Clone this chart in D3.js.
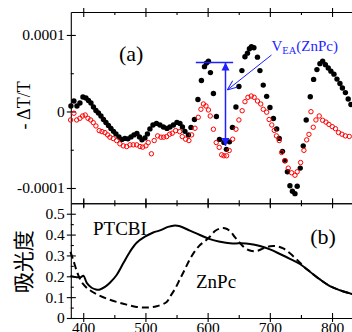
<!DOCTYPE html>
<html>
<head>
<meta charset="utf-8">
<script src="https://cdn.jsdelivr.net/npm/d3@7"></script>
<style>
body { margin: 0; background: #fff; }
svg { display: block; font-family: "Liberation Serif", "DejaVu Serif", serif; }
</style>
</head>
<body>
<svg width="352" height="332"></svg>
<script>
// (a) electroabsorption, -dT/T, values in units of 1e-5
var dtUnit = 1e-5;
var blackNm = [380.2,385.0,389.9,394.7,399.5,404.3,408.4,412.4,416.4,420.4,
  424.4,428.5,432.5,436.5,440.5,444.5,448.6,452.6,457.4,462.2,
  467.0,471.8,476.7,481.5,486.3,490.4,494.4,499.2,503.2,507.2,
  512.1,517.7,523.3,528.9,534.6,539.4,545.0,550.6,555.5,559.5,
  563.5,569.1,573.2,578.8,584.4,590.0,594.9,598.1,601.3,604.5,
  609.3,614.1,619.0,626.2,630.2,635.1,639.9,645.5,650.3,655.1,
  660.0,664.0,667.2,670.4,674.4,680.1,684.1,689.4,694.9,700.2,
  705.8,711.0,715.1,720.3,724.3,728.3,732.3,736.3,740.4,744.0,
  748.9,753.7,758.5,765.0,770.4,775.7,780.5,784.9,789.4,793.9,
  798.2,803.1,807.9,812.7,816.7,821.5,826.0,830.4];
var blackDT = [0.72,1.37,0.72,1.11,1.89,1.76,1.43,1.11,0.59,0.13,
  -0.20,-0.59,-1.04,-1.43,-1.82,-2.21,-2.60,-2.93,-3.32,-3.65,
  -3.52,-3.58,-3.32,-3.06,-2.86,-3.32,-3.71,-3.45,-2.93,-2.28,
  -1.76,-1.56,-1.76,-2.02,-2.21,-2.02,-1.76,-1.43,-1.56,-2.02,
  -2.60,-3.06,-2.08,-1.04,1.56,4.04,5.86,6.32,6.58,5.08,
  2.34,-0.65,-3.65,-4.04,-4.95,-3.97,-2.08,0.59,3.26,5.34,
  7.16,7.62,8.20,8.46,8.33,7.10,5.34,3.45,1.98,0.52,
  -0.91,-2.28,-3.52,-5.21,-6.45,-7.88,-9.70,-10.42,-10.74,-9.77,
  -7.40,-4.49,-1.11,1.93,4.19,5.47,6.25,6.58,6.12,5.69,
  5.27,4.88,4.23,3.65,3.06,2.47,1.63,0.91];
var redNm = [379.7,385.0,389.4,394.7,399.0,403.2,407.6,411.9,416.1,420.4,
  425.7,430.1,434.9,439.2,442.9,448.2,453.7,459.0,464.3,469.8,
  475.1,480.4,485.9,491.2,495.5,500.8,504.5,509.6,514.1,519.6,
  524.9,529.3,534.1,538.9,543.1,548.6,555.0,559.2,564.6,569.9,
  574.3,579.6,584.9,589.2,593.2,597.3,601.3,604.2,609.3,613.8,
  618.6,622.5,626.2,630.5,634.7,640.2,645.5,650.3,655.5,660.0,
  664.8,670.1,674.8,680.1,685.4,689.4,694.9,698.9,703.1,707.1,
  710.6,715.1,719.0,724.3,729.6,735.0,740.4,744.0,749.5,754.8,
  759.2,762.9,766.1,769.8,774.1,779.4,784.9,790.2,795.0,800.3,
  805.5,810.5,815.9,821.5,827.7];
var redDT = [-1.11,-0.23,-1.11,-0.89,-0.59,-0.46,-0.89,-1.11,-1.46,-1.89,
  -2.50,-2.63,-2.76,-3.06,-3.36,-3.54,-3.80,-4.23,-4.49,-4.58,
  -4.36,-4.36,-4.36,-4.58,-4.66,-4.49,-4.06,-5.53,-3.80,-3.19,
  -3.36,-3.36,-3.28,-2.97,-2.84,-2.50,-2.63,-3.28,-3.62,-3.80,
  -3.06,-2.19,-0.76,0.29,0.98,0.72,0.20,-0.59,-2.32,-4.06,
  -4.69,-5.66,-5.79,-5.79,-5.10,-3.62,-2.32,-1.11,0.10,1.28,
  1.85,2.02,1.85,1.37,0.98,0.29,-0.09,-1.05,-1.76,-2.47,
  -3.19,-3.80,-5.36,-6.41,-7.40,-8.01,-8.33,-7.88,-6.67,-5.08,
  -3.71,-2.99,-0.03,-2.06,-1.11,-0.59,-1.15,-1.39,-1.69,-1.98,
  -2.25,-2.76,-2.97,-3.19,-3.26];

// (b) absorbance
var ptcbiNm = [379.4,388.3,396.3,400.3,405.9,413.5,420.4,426.8,434.9,442.9,
  453.7,464.3,475.1,485.9,499.2,512.5,523.3,536.2,547.4,555.5,
  571.5,587.6,603.7,619.8,635.8,651.9,668.0,684.1,700.2,716.3,
  732.3,748.4,764.5,780.5,796.6,812.7,828.8,835];
var ptcbiAbs = [0.201,0.196,0.196,0.203,0.167,0.145,0.137,0.137,0.149,0.169,
  0.206,0.262,0.318,0.361,0.39,0.41,0.42,0.437,0.444,0.440,
  0.419,0.398,0.378,0.366,0.358,0.358,0.355,0.345,0.329,0.307,
  0.284,0.259,0.222,0.185,0.153,0.133,0.118,0.112];
var znpcNm = [379.4,383.9,392.0,400.0,410.8,421.5,437.6,453.7,469.8,485.9,
  502.0,518.0,534.1,539.5,547.5,555.6,563.7,571.7,579.7,587.8,
  595.8,603.9,611.8,619.9,627.7,635.9,643.8,651.9,659.8,667.9,
  678.9,689.4,700.2,710.9,721.5,732.3,743.1,753.7,764.5,780.5,
  796.6,812.7,828.8,835];
var znpcAbs = [0.317,0.278,0.206,0.162,0.133,0.114,0.093,0.077,0.064,0.053,
  0.050,0.056,0.077,0.102,0.139,0.187,0.235,0.283,0.321,0.350,
  0.369,0.391,0.417,0.429,0.430,0.417,0.388,0.360,0.336,0.324,
  0.321,0.334,0.344,0.344,0.334,0.310,0.281,0.249,0.222,0.185,
  0.153,0.133,0.118,0.112];

var nmMajor = [400, 500, 600, 700, 800];
var nmMinor = [450, 550, 650, 750];
var dtMajor = [-1e-4, 0, 1e-4];
var dtMinor = [-5e-5, 5e-5];
var absMajor = [0, 0.1, 0.2, 0.3, 0.4, 0.5];
var absMinor = [0.05, 0.15, 0.25, 0.35, 0.45];

var svg = d3.select("svg");
var left = 70.8, right = 353.8, topA = 12, midY = 203.3, bottomB = 318;
var blue = "#1f1fff";

var x = d3.scaleLinear().domain([380, 835]).range([left, right]);
var yA = d3.scaleLinear().domain([-1.2e-4, 1.3e-4]).range([midY, topA]);
var yB = d3.scaleLinear().domain([0, 0.55]).range([bottomB, midY]);

var fmtDT = function(d) { return d === 0 ? "0" : (d < 0 ? "-" : "") + Math.abs(d).toFixed(4); };
var fmtAbs = function(d) { return d === 0 ? "0" : d.toFixed(1); };

// crossing major ticks, inward minor ticks
function addAxis(gen, tr, major, minor, fmt, vertical, outSign) {
  var g = svg.append("g").attr("transform", tr)
    .call(gen.tickValues(major).tickSizeInner(-5).tickSizeOuter(0).tickPadding(fmt ? 6 : 0)
      .tickFormat(fmt || ""));
  g.selectAll(".tick line").attr(vertical ? "x1" : "y1", 4 * outSign);
  var m = svg.append("g").attr("transform", tr)
    .call(gen.tickValues(minor).tickSizeInner(-3).tickFormat(""));
  m.select(".domain").remove();
  [g, m].forEach(function(s) {
    s.selectAll("line, path").attr("stroke", "#000").attr("stroke-width", 1.1);
    s.selectAll("text").attr("font-size", 15.5).attr("fill", "#000")
      .attr("font-family", "Liberation Serif, serif");
  });
  return g;
}

addAxis(d3.axisLeft(yA), "translate(" + left + ",0)", dtMajor, dtMinor, fmtDT, true, -1);
addAxis(d3.axisLeft(yB), "translate(" + left + ",0)", absMajor, absMinor, fmtAbs, true, -1);
addAxis(d3.axisTop(x), "translate(0," + topA + ")", nmMajor, nmMinor, null, false, -1);
addAxis(d3.axisBottom(x), "translate(0," + midY + ")", nmMajor, nmMinor, null, false, 1);
addAxis(d3.axisTop(x), "translate(0," + midY + ")", nmMajor, nmMinor, null, false, -1);
var bx = addAxis(d3.axisBottom(x), "translate(0," + bottomB + ")", nmMajor, nmMinor, d3.format("d"), false, 1);
bx.selectAll("text").attr("y", 4);

// panel (a) dots
var black = blackNm.map(function(n, i) { return {nm: n, v: blackDT[i] * dtUnit}; });
var red = redNm.map(function(n, i) { return {nm: n, v: redDT[i] * dtUnit}; });

svg.append("g").selectAll("circle").data(black).enter().append("circle")
  .attr("cx", function(d) { return x(d.nm); })
  .attr("cy", function(d) { return yA(d.v); })
  .attr("r", 2.7)
  .attr("fill", "#000");

svg.append("g").selectAll("circle").data(red).enter().append("circle")
  .attr("cx", function(d) { return x(d.nm); })
  .attr("cy", function(d) { return yA(d.v); })
  .attr("r", 2.2)
  .attr("fill", "none")
  .attr("stroke", "#f00")
  .attr("stroke-width", 1);

// panel (b) curves
var line = d3.line()
  .x(function(d) { return x(d[0]); })
  .y(function(d) { return yB(d[1]); })
  .curve(d3.curveCatmullRom);

svg.append("path")
  .datum(d3.zip(znpcNm, znpcAbs))
  .attr("d", line)
  .attr("fill", "none").attr("stroke", "#000").attr("stroke-width", 2)
  .attr("stroke-dasharray", "7,4");

svg.append("path")
  .datum(d3.zip(ptcbiNm, ptcbiAbs))
  .attr("d", line)
  .attr("fill", "none").attr("stroke", "#000").attr("stroke-width", 2);

// V_EA annotation
var defs = svg.append("defs");
defs.append("marker").attr("id", "tri")
  .attr("viewBox", "0 0 10 10").attr("refX", 10).attr("refY", 5)
  .attr("markerWidth", 8).attr("markerHeight", 10).attr("markerUnits", "userSpaceOnUse")
  .attr("orient", "auto-start-reverse")
  .append("path").attr("d", "M0,0L10,5L0,10Z").attr("fill", blue);
defs.append("marker").attr("id", "vee")
  .attr("viewBox", "0 0 10 10").attr("refX", 10).attr("refY", 5)
  .attr("markerWidth", 10).attr("markerHeight", 10).attr("markerUnits", "userSpaceOnUse")
  .attr("orient", "auto")
  .append("path").attr("d", "M0,1L10,5L0,9").attr("fill", "none").attr("stroke", blue).attr("stroke-width", 1);

svg.append("line")
  .attr("x1", x(581)).attr("x2", x(641))
  .attr("y1", yA(6.4e-5)).attr("y2", yA(6.4e-5))
  .attr("stroke", blue).attr("stroke-width", 1.3);
svg.append("line")
  .attr("x1", x(628.7)).attr("x2", x(628.7))
  .attr("y1", yA(6.4e-5)).attr("y2", yA(-4.5e-5))
  .attr("stroke", blue).attr("stroke-width", 1.5)
  .attr("marker-start", "url(#tri)").attr("marker-end", "url(#tri)");
svg.append("line")
  .attr("x1", x(702.7)).attr("y1", yA(7.38e-5))
  .attr("x2", x(631.6)).attr("y2", yA(2.81e-5))
  .attr("stroke", blue).attr("stroke-width", 1)
  .attr("marker-end", "url(#vee)");

var vt = svg.append("text")
  .attr("x", x(702.7)).attr("y", yA(7.9e-5))
  .attr("fill", blue).attr("font-size", 15);
vt.append("tspan").text("V");
vt.append("tspan").attr("font-size", 10.5).attr("dy", 3).text("EA");
vt.append("tspan").attr("dy", -3).text("(ZnPc)");

// panel labels
svg.append("text").attr("x", x(477)).attr("y", yA(6.6e-5))
  .attr("text-anchor", "middle").attr("font-size", 22).text("(a)");
svg.append("text").attr("x", x(785.7)).attr("y", yB(0.355))
  .attr("text-anchor", "middle").attr("font-size", 22).text("(b)");
svg.append("text").attr("x", x(415.7)).attr("y", yB(0.398))
  .attr("font-size", 19).text("PTCBI");
svg.append("text").attr("x", x(581.3)).attr("y", yB(0.144))
  .attr("font-size", 19).text("ZnPc");

// axis titles
svg.append("text")
  .attr("transform", "translate(30," + yA(0.8e-5) + ") rotate(-90)")
  .attr("text-anchor", "middle").attr("font-size", 18)
  .text("- \u0394T/T");
svg.append("text")
  .attr("transform", "translate(31," + yB(0.27) + ") rotate(-90)")
  .attr("text-anchor", "middle").attr("font-size", 21)
  .attr("font-family", "Noto Sans CJK JP, sans-serif")
  .text("吸光度");
</script>
</body>
</html>
